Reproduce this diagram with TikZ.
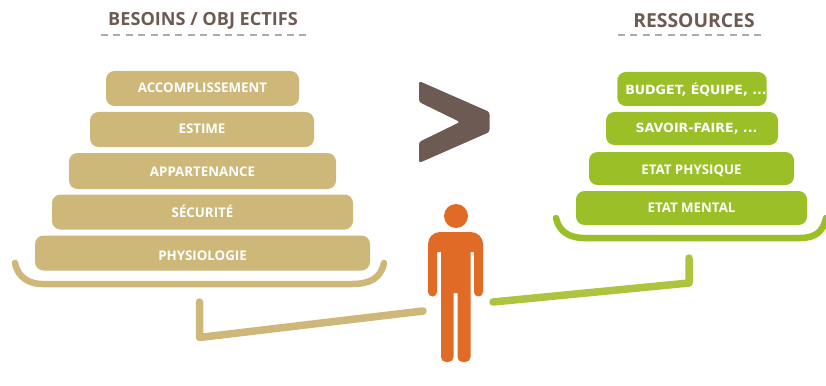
\documentclass[tikz,border=0pt]{standalone}
\usepackage{fontspec}
\setmainfont{Open Sans}
\newfontfamily\widefont{DejaVu Sans}
\usetikzlibrary{positioning}
\definecolor{besoinstan}{RGB}{205,184,122}
\definecolor{ressgreen}{RGB}{155,191,39}
\definecolor{linkgreen}{RGB}{172,196,62}
\definecolor{signbrown}{RGB}{109,90,82}
\definecolor{persorange}{RGB}{224,107,39}
\tikzset{
    pyrbox/.style={rounded corners=8.5pt, inner sep=0pt, text=white, text height=9.4pt, text depth=0pt, font=\fontsize{13.3}{14}\selectfont\bfseries, align=center},
    titletext/.style={text=signbrown, font=\fontsize{18.1}{20}\selectfont\bfseries, inner sep=0pt},
    dashrule/.style={draw=gray!65, line width=1.3pt, dash pattern=on 7pt off 5.4pt},
    tray/.style={line width=6.5pt, line cap=round},
    link/.style={line width=7.5pt, line cap=round, line join=round}
}
\begin{document}
\begin{tikzpicture}[x=1pt, y=-1pt]
    \useasboundingbox (0,0) rectangle (826,385);

    % Titles
    \node[titletext] (besoins) at (203,21) {BESOINS / OBJ ECTIFS};
    \node[titletext, font=\fontsize{19.3}{20}\selectfont\bfseries] (ressources) at (694,21) {RESSOURCES};
    \draw[dashrule] (101,35) -- (307,35);
    \draw[dashrule] (618,35) -- (763,35);

    % Left pyramid
    \foreach \x/\y/\w/\h/\dy/\name/\txt in {202.5/88.5/193/35/1/acc/ACCOMPLISSEMENT, 202/129.5/224/35/1/est/ESTIME, 202.5/171/267/36/-0.8/app/APPARTENANCE, 202.5/212/301/35/-1/sec/SÉCURITÉ, 202.5/253/335/35/-3/phy/PHYSIOLOGIE} {
        \node[pyrbox, fill=besoinstan, minimum width=\w pt, minimum height=\h pt] (\name) at (\x,\y) {\raisebox{\dy pt}{\txt}};
    }
    \draw[tray, besoinstan] (15,263) .. controls (18,278) and (30,284) .. (42,284) -- (352,284) .. controls (370,284) and (381,278) .. (384,263);

    % Right pyramid
    \foreach \x/\y/\w/\h/\dy/\name/\txt in {692/89/148/34/-1/bud/{\widefont\fontsize{12.65}{14}\selectfont\hspace*{8pt}BUDGET, ÉQUIPE, ...}, 692/128.5/172/33/1/sav/{\widefont\fontsize{12.65}{14}\selectfont\hspace*{9pt}SAVOIR-FAIRE, ...}, 691.5/168.5/205/33/-0.8/phys/ETAT PHYSIQUE, 691.5/208/231/34/0/men/ETAT MENTAL} {
        \node[pyrbox, fill=ressgreen, minimum width=\w pt, minimum height=\h pt] (\name) at (\x,\y) {\raisebox{\dy pt}{\txt}};
    }
    \draw[tray, ressgreen] (556,218) .. controls (559,232) and (570,238) .. (584,238) -- (800,238) .. controls (815,238) and (823,232) .. (826,218);

    % Greater-than sign
    \fill[signbrown, rounded corners=2.5pt] (419,81) -- (489.5,112) -- (489.5,132) -- (419,163) -- (419,142) -- (460,122) -- (419,102) -- cycle;

    % Person
    \fill[persorange] (456,216) circle (12);
    \fill[persorange, rounded corners=4.5pt] (428,296.5) -- (428,248) [rounded corners=12pt] -- (428,232) -- (483,232) [rounded corners=4.5pt] -- (483,248) -- (483,296.5) -- (474,296.5) [sharp corners] -- (474,252) -- (470.5,252) [rounded corners=5pt] -- (470.5,362) -- (457.5,362) [sharp corners] -- (457.5,293) -- (453.5,293) [rounded corners=5pt] -- (453.5,362) -- (441,362) [sharp corners] -- (441,252) -- (437,252) [rounded corners=4.5pt] -- (437,296.5) -- cycle;

    % Links to the person
    \draw[link, besoinstan] (199.5,302) -- (199.5,337.5) -- (423,311);
    \draw[link, linkgreen] (493,302) -- (689,283) -- (689,258);
\end{tikzpicture}
\end{document}
